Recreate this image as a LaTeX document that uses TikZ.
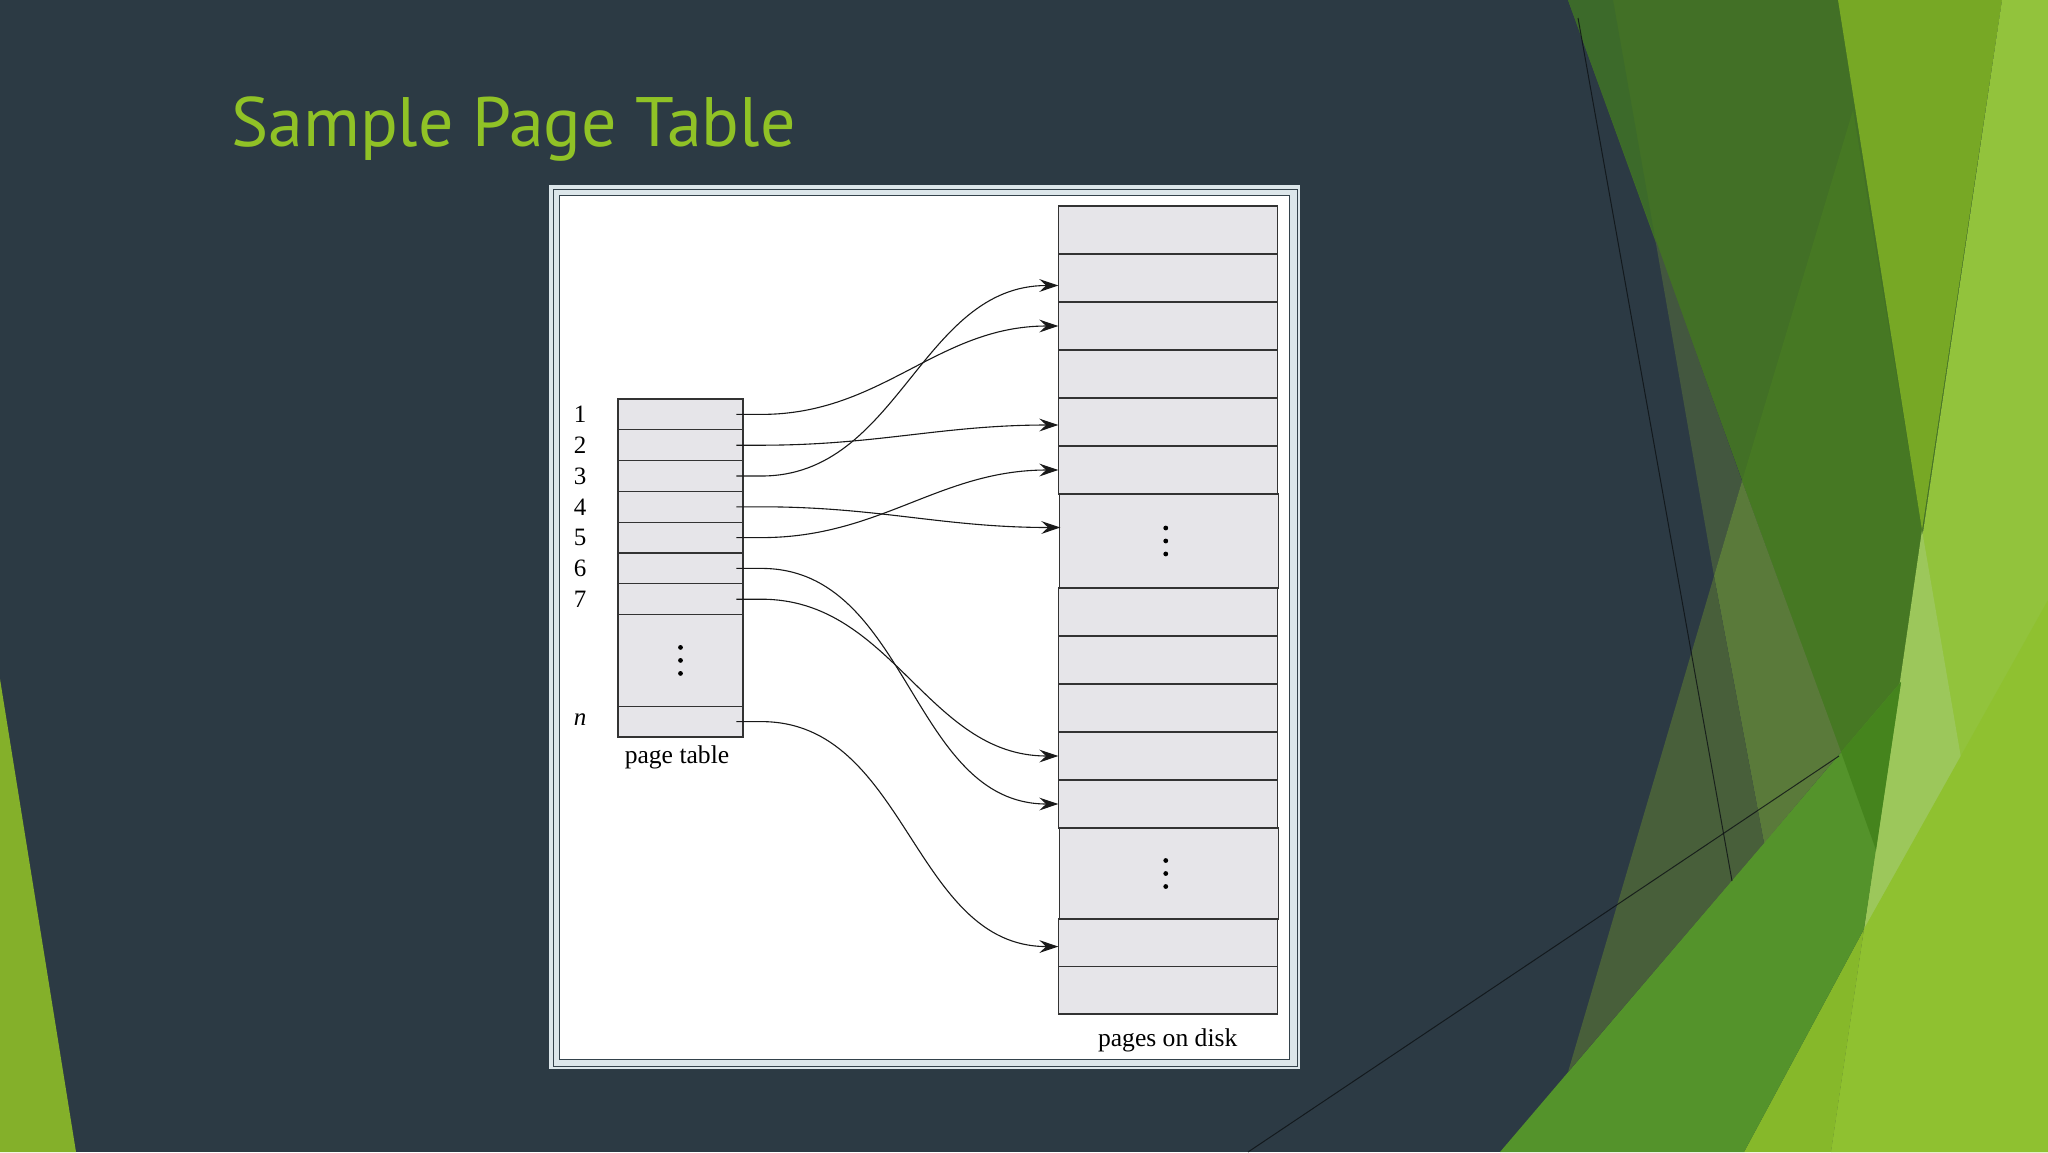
\documentclass[tikz,border=0pt]{standalone}
\usepackage{fontspec}
\setmainfont{Liberation Serif}
\newfontfamily\titlefont{PT Sans}
\usetikzlibrary{arrows.meta}
\definecolor{slate}{HTML}{2C3A44}
\definecolor{titlegreen}{HTML}{90C226}
\definecolor{leftgreen}{HTML}{84B02A}
\definecolor{pone}{HTML}{427026}
\definecolor{ponedark}{HTML}{3C6A2A}
\definecolor{ponemid}{HTML}{467823}
\definecolor{band}{HTML}{77A825}
\definecolor{bright}{HTML}{92C33C}
\definecolor{patch}{HTML}{9CC75B}
\definecolor{limeR}{HTML}{8FC130}
\definecolor{limeL}{HTML}{86B82A}
\definecolor{gone}{HTML}{54932B}
\definecolor{goneover}{HTML}{45841D}
\definecolor{olivegray}{HTML}{43573F}
\definecolor{olivelight}{HTML}{5A7A3A}
\definecolor{olivedark}{HTML}{485F3A}
\definecolor{framelight}{HTML}{DCE6EA}
\definecolor{framedark}{HTML}{34424B}
\definecolor{cellfill}{HTML}{E6E5E9}
\definecolor{boxline}{HTML}{333333}
\tikzset{
  ptcell/.style={draw=boxline, fill=cellfill, line width=0.65pt, minimum width=62.45pt, inner sep=0pt, outer sep=0pt},
  dkcell/.style={draw=boxline, fill=cellfill, line width=0.65pt, minimum width=109.45pt, inner sep=0pt, outer sep=0pt},
  rowlabel/.style={font=\fontsize{12.5}{14}\selectfont, inner sep=0pt},
  caption/.style={font=\fontsize{12.8}{15}\selectfont, inner sep=0pt},
  conn/.style={draw=black!90, line width=0.55pt, -{Stealth[length=9.5pt,width=6.4pt,inset=3.4pt]}},
  thinline/.style={draw=black!70!slate, line width=0.5pt, opacity=0.8},
  dot/.style={fill=black}
}
\begin{document}
\begin{tikzpicture}[x=0.5pt,y=-0.5pt]
\useasboundingbox (0,0) rectangle (2048,1152);
% background
\fill[slate] (0,0) rectangle (2048,1152);
\fill[leftgreen] (0,679) -- (76,1152) -- (0,1152) -- cycle;
% right decoration
\fill[pone] (1568,0) -- (2002,0) -- (1876,850) -- cycle;
\fill[ponedark] (1568,0) -- (1613,0) -- (1655,238) -- cycle;
\fill[ponemid] (1853,110) -- (1742,481) -- (1876,850) -- (1922,530) -- cycle;
\fill[band] (1838,0) -- (2002,0) -- (1922,530) -- cycle;
\fill[bright] (2002,0) -- (2048,0) -- (2048,1152) -- (1831,1152) -- cycle;
\fill[patch] (1922,530) -- (1961,758) -- (1864,929) -- cycle;
\fill[limeR] (1864,929) -- (2048,600) -- (2048,1152) -- (1831,1152) -- cycle;
\fill[limeL] (1744,1152) -- (1864,929) -- (1831,1152) -- cycle;
\fill[gone] (1500,1152) -- (1744,1152) -- (1864,929) -- (1901,682) -- cycle;
\fill[goneover] (1841,752) -- (1901,682) -- (1876,850) -- cycle;
\fill[olivegray] (1655,238) -- (1742,481) -- (1714,576) -- cycle;
\fill[olivelight] (1742,481) -- (1714,576) -- (1764,843) -- (1841,752) -- cycle;
\fill[olivedark] (1714,576) -- (1764,843) -- (1568,1072) -- cycle;
\draw[thinline] (1578,18) -- (1732,881);
\draw[thinline] (1248,1152) -- (1839,756);
% title
\node[anchor=base west, inner sep=0pt, text=titlegreen] (title) at (231,146)
  {\resizebox{282pt}{!}{\titlefont Sample Page Table}};
% frame
\fill[framelight] (549,185) rectangle (1299.5,1068.5);
\draw[framedark, line width=0.5pt] (553.5,189) rectangle (1297,1066);
\filldraw[fill=white, draw=framedark, line width=0.75pt] (559.5,195.5) rectangle (1289.5,1059.5);
% page table
\node[ptcell, minimum height=15.4pt] (p1) at (680.5,414.4) {};
\node[ptcell, minimum height=15.4pt] (p2) at (680.5,445.2) {};
\node[ptcell, minimum height=15.4pt] (p3) at (680.5,476.0) {};
\node[ptcell, minimum height=15.4pt] (p4) at (680.5,506.8) {};
\node[ptcell, minimum height=15.4pt] (p5) at (680.5,537.6) {};
\node[ptcell, minimum height=15.4pt] (p6) at (680.5,568.4) {};
\node[ptcell, minimum height=15.4pt] (p7) at (680.5,599.2) {};
\node[ptcell, minimum height=45.8pt] (pdots) at (680.5,660.4) {};
\node[ptcell, minimum height=15.4pt] (pn) at (680.5,721.6) {};
\foreach \o in {-6.5,0,6.5} \fill[dot] ([yshift=\o pt]pdots.center) circle[radius=1.2pt];
\node[rowlabel] (l1) at (580,414.4) {1};
\node[rowlabel] (l2) at (580,445.2) {2};
\node[rowlabel] (l3) at (580,476.0) {3};
\node[rowlabel] (l4) at (580,506.8) {4};
\node[rowlabel] (l5) at (580,537.6) {5};
\node[rowlabel] (l6) at (580,568.4) {6};
\node[rowlabel] (l7) at (580,599.2) {7};
\node[rowlabel] (ln) at (580,719.6) {\itshape n};
\node[caption] (ptlabel) at (677,757) {page table};
% disk
\node[dkcell, minimum height=24pt] (d1) at (1167.75,230) {};
\node[dkcell, minimum height=24pt] (d2) at (1167.75,278) {};
\node[dkcell, minimum height=24pt] (d3) at (1167.75,326) {};
\node[dkcell, minimum height=24pt] (d4) at (1167.75,374) {};
\node[dkcell, minimum height=24pt] (d5) at (1167.75,422) {};
\node[dkcell, minimum height=24pt] (d6) at (1167.75,470) {};
\node[dkcell, minimum height=47pt] (dd1) at (1168.75,541) {};
\node[dkcell, minimum height=24pt] (d7) at (1167.75,612) {};
\node[dkcell, minimum height=24pt] (d8) at (1167.75,660) {};
\node[dkcell, minimum height=24pt] (d9) at (1167.75,708) {};
\node[dkcell, minimum height=24pt] (d10) at (1167.75,756) {};
\node[dkcell, minimum height=24pt] (d11) at (1167.75,804) {};
\node[dkcell, minimum height=45.5pt] (dd2) at (1168.75,873.5) {};
\node[dkcell, minimum height=23.75pt] (d12) at (1167.75,942.75) {};
\node[dkcell, minimum height=23.75pt] (d13) at (1167.75,990.25) {};
\foreach \o in {-6.5,0,6.5} {
  \fill[dot] ([xshift=-1.5pt,yshift=\o pt]dd1.center) circle[radius=1.2pt];
  \fill[dot] ([xshift=-1.5pt,yshift=\o pt]dd2.center) circle[radius=1.2pt];
}
\node[caption] (dklabel) at (1167.7,1040) {pages on disk};
% connectors
\draw[conn] ([xshift=-3.25pt]p1.east) -- ++(25,0) to[out=0,in=180] (d3.west);
\draw[conn] ([xshift=-3.25pt]p2.east) -- ++(25,0) to[out=0,in=180] ([yshift=-1.5pt]d5.west);
\draw[conn] ([xshift=-3.25pt]p3.east) -- ++(25,0) to[out=0,in=180] ([yshift=-3.75pt]d2.west);
\draw[conn] ([xshift=-3.25pt]p4.east) -- ++(25,0) to[out=0,in=180] ([xshift=0.5pt,yshift=6.75pt]dd1.west);
\draw[conn] ([xshift=-3.25pt]p5.east) -- ++(25,0) to[out=0,in=180] (d6.west);
\draw[conn] ([xshift=-3.25pt]p6.east) -- ++(25,0) to[out=0,in=180] (d11.west);
\draw[conn] ([xshift=-3.25pt]p7.east) -- ++(25,0) to[out=0,in=180] (d10.west);
\draw[conn] ([xshift=-3.25pt]pn.east) -- ++(25,0) to[out=0,in=180] ([yshift=-1.9pt]d12.west);
\end{tikzpicture}
\end{document}
